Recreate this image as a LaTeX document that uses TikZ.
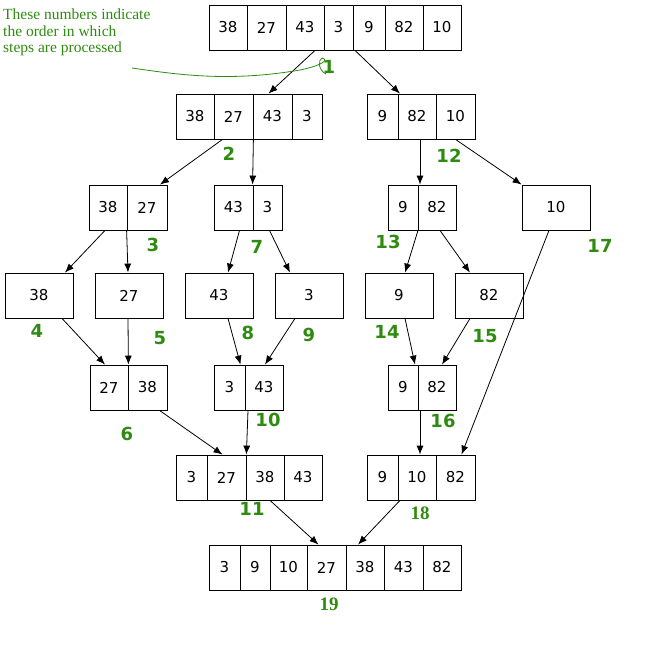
\documentclass[tikz,border=0pt]{standalone}
\usepackage{fontspec}
\setmainfont{DejaVu Sans}
\newfontfamily\annfont{Liberation Serif}
\usetikzlibrary{arrows.meta,calc}
\definecolor{grn}{HTML}{2E8B10}
\tikzset{cell/.style={draw,thick,inner sep=0pt,font=\fontsize{15}{17}\selectfont},
 arr/.style={-{Latex[length=9pt,width=7pt]},thick},
 num/.style={text=grn,font=\fontsize{18}{20}\selectfont\bfseries},
 snum/.style={text=grn,font=\annfont\fontsize{19}{21}\selectfont\bfseries}}
\newcommand\mycell[5]{\pgfmathsetmacro\ww{#3-#2}\pgfmathsetmacro\cx{(#2+#3)/2}\pgfmathsetmacro\cy{#4+22.5}%
 \node[cell,minimum width=\ww pt,minimum height=45pt] (#1) at (\cx,\cy) {#5};}
\begin{document}
\begin{tikzpicture}[x=1pt,y=-1pt]
\useasboundingbox (0,0) rectangle (657,646);
% row 1
\mycell{a1}{209}{247}{5}{38}\mycell{a2}{247}{286}{5}{27}\mycell{a3}{286}{324}{5}{43}\mycell{a4}{324}{353}{5}{3}
\mycell{a5}{353}{385}{5}{9}\mycell{a6}{385}{423}{5}{82}\mycell{a7}{423}{461}{5}{10}
% row 2
\mycell{b1}{176}{214}{94}{38}\mycell{b2}{214}{253}{94}{27}\mycell{b3}{253}{292}{94}{43}\mycell{b4}{292}{322}{94}{3}
\mycell{b5}{367}{398}{94}{9}\mycell{b6}{398}{436}{94}{82}\mycell{b7}{436}{475}{94}{10}
% row 3
\mycell{c1}{89}{127}{185}{38}\mycell{c2}{127}{167}{185}{27}
\mycell{c3}{214}{253}{185}{43}\mycell{c4}{253}{282}{185}{3}
\mycell{c5}{388}{418}{185}{9}\mycell{c6}{418}{456}{185}{82}
\mycell{c7}{522}{590}{185}{10}
% row 4
\mycell{d1}{5}{73}{273}{38}\mycell{d2}{95}{163}{273}{27}\mycell{d3}{185}{253}{273}{43}
\mycell{d4}{275}{343}{273}{3}\mycell{d5}{365}{433}{273}{9}\mycell{d6}{455}{523}{273}{82}
% row 5
\mycell{e1}{90}{128}{365}{27}\mycell{e2}{128}{167}{365}{38}
\mycell{e3}{214}{245}{365}{3}\mycell{e4}{245}{283}{365}{43}
\mycell{e5}{388}{418}{365}{9}\mycell{e6}{418}{456}{365}{82}
% row 6
\mycell{f1}{176}{207}{455}{3}\mycell{f2}{207}{246}{455}{27}\mycell{f3}{246}{284}{455}{38}\mycell{f4}{284}{322}{455}{43}
\mycell{f5}{367}{398}{455}{9}\mycell{f6}{398}{436}{455}{10}\mycell{f7}{436}{475}{455}{82}
% row 7
\mycell{g1}{209}{240}{545}{3}\mycell{g2}{240}{270}{545}{9}\mycell{g3}{270}{307}{545}{10}\mycell{g4}{307}{346}{545}{27}
\mycell{g5}{346}{384}{545}{38}\mycell{g6}{384}{423}{545}{43}\mycell{g7}{423}{461}{545}{82}
% arrows
\draw[arr] ($(a3.south)+(10,0)$) -- ($(b3.north)+(-4,0)$);
\draw[arr] ($(a5.south)+(-14,0)$) -- ($(b6.north)+(-17,0)$);
\draw[arr] ($(b2.south)+(-11,0)$) -- ($(c2.north)+(13,0)$);
\draw[arr] (b2.south east) -- (c4.north west);
\draw[arr] ($(b6.south)+(3,0)$) -- ($(c6.north)+(-17,0)$);
\draw[arr] ($(b7.south)+(0,0)$) -- ($(c7.north west)$);
\draw[arr] ($(c1.south)+(-3,0)$) -- ($(d1.north)+(26,0)$);
\draw[arr] (c2.south west) -- ($(d2.north)+(-1,0)$);
\draw[arr] ($(c3.south)+(6,0)$) -- ($(d3.north)+(9,0)$);
\draw[arr] ($(c4.south)+(2,0)$) -- ($(d4.north)+(-19,0)$);
\draw[arr] ($(c5.south)+(15,0)$) -- ($(d5.north)+(6,0)$);
\draw[arr] ($(c6.south)+(3,0)$) -- ($(d6.north)+(-19,0)$);
\draw[arr] ($(c7.south)+(-7,0)$) -- ($(f7.north)+(6,0)$);
\draw[arr] ($(d1.south)+(23,0)$) -- ($(e1.north)+(-4,0)$);
\draw[arr] ($(d2.south)+(-1,0)$) -- (e1.north east);
\draw[arr] ($(d3.south)+(9,0)$) -- ($(e3.north)+(11,0)$);
\draw[arr] ($(d4.south)+(-14,0)$) -- ($(e4.north)+(1,0)$);
\draw[arr] ($(d5.south)+(6,0)$) -- ($(e5.north)+(12,0)$);
\draw[arr] ($(d6.south)+(-19,0)$) -- ($(e6.north)+(5,0)$);
\draw[arr] ($(e2.south)+(12,0)$) -- ($(f2.north)+(-4,0)$);
\draw[arr] ($(e4.south)+(-16,0)$) -- (f2.north east);
\draw[arr] ($(e6.south)+(-17,0)$) -- ($(f6.north)+(3,0)$);
\draw[arr] ($(f3.south)+(5,0)$) -- ($(g4.north)+(-8,0)$);
\draw[arr] ($(f6.south)+(-17,0)$) -- ($(g5.north)+(-7,0)$);
% annotation
\node[text=grn,font=\annfont\fontsize{15.5}{16.5}\selectfont,align=left,anchor=north west,inner sep=0pt] (ann) at (3,9)
 {These numbers indicate\\ the order in which\\ steps are processed};
\draw[grn,thick] (132,68) .. controls (180,75) and (230,82) .. (300,70) .. controls (320,66) and (330,60) .. (322,58) .. controls (318,60) and (318,70) .. (326,74);
% step numbers
\node[num] (n1) at (329,67) {1};
\node[num] (n2) at (229,154) {2};
\node[num] (n12) at (449,156) {12};
\node[num] (n3) at (153,245) {3};
\node[num] (n7) at (257,247) {7};
\node[num] (n13) at (388,242) {13};
\node[num] (n17) at (600,246) {17};
\node[num] (n4) at (37,331) {4};
\node[num] (n5) at (160,338) {5};
\node[num] (n8) at (248,333) {8};
\node[num] (n9) at (309,335) {9};
\node[num] (n14) at (387,332) {14};
\node[num] (n15) at (485,336) {15};
\node[num] (n6) at (127,434) {6};
\node[num] (n10) at (268,420) {10};
\node[num] (n16) at (443,421) {16};
\node[num] (n11) at (252,509) {11};
\node[snum] (n18) at (420,513) {18};
\node[snum] (n19) at (329,604) {19};
\end{tikzpicture}
\end{document}
